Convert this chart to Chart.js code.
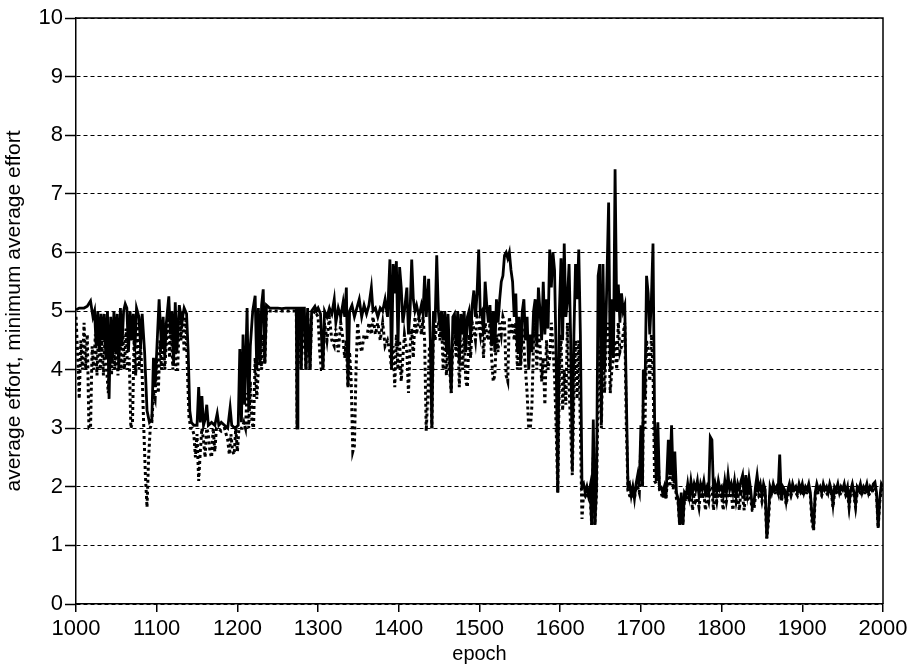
<!DOCTYPE html>
<html>
<head>
<meta charset="utf-8">
<script src="https://cdn.jsdelivr.net/npm/chart.js@4.4.1/dist/chart.umd.min.js"></script>
<style>
  html, body { margin: 0; padding: 0; background: #fff; }
</style>
</head>
<body>
<canvas id="effortChart" width="914" height="666"></canvas>
<script>
// average effort per epoch (solid line), [epoch, value]
const avgEffort = [
  [1000,5.02],[1004,5.05],[1010,5.05],[1014,5.08],[1018,5.17],[1021,4.9],[1023,5.0],[1025,4.4],[1027,5.0],[1029,4.3],
  [1031,4.95],[1033,4.5],[1035,4.95],[1037,4.2],[1039,5.0],[1041,3.5],[1043,4.9],[1045,4.1],[1047,5.0],[1049,4.3],
  [1051,4.95],[1053,4.0],[1055,5.05],[1057,4.4],[1059,5.0],[1061,5.12],[1063,5.05],[1065,4.3],[1067,5.0],[1069,4.5],
  [1071,4.95],[1073,4.35],[1075,5.05],[1078,4.9],[1080,4.4],[1082,4.95],[1085,4.3],[1088,3.3],[1091,3.1],[1094,3.15],
  [1096,4.2],[1098,3.7],[1101,4.6],[1103,5.2],[1106,4.35],[1108,4.9],[1110,4.2],[1112,4.8],[1115,5.25],[1117,4.6],
  [1119,5.0],[1121,4.1],[1123,5.15],[1125,4.3],[1128,5.1],[1131,4.8],[1134,5.05],[1137,4.95],[1139,4.3],[1141,3.3],
  [1143,3.1],[1146,3.05],[1150,3.05],[1152,3.7],[1154,3.1],[1156,3.55],[1158,3.05],[1160,3.15],[1162,3.4],[1164,3.05],
  [1168,3.1],[1172,3.05],[1175,3.25],[1177,3.05],[1180,3.1],[1184,3.05],[1188,3.0],[1191,3.35],[1193,3.05],[1197,3.0],
  [1201,3.05],[1203,4.35],[1205,3.1],[1207,4.6],[1209,3.4],[1212,5.05],[1214,3.3],[1216,4.4],[1219,5.0],[1222,5.26],
  [1224,4.0],[1226,5.05],[1228,4.1],[1230,5.1],[1232,5.37],[1234,4.1],[1236,5.1],[1240,5.05],[1245,5.05],[1250,5.05],
  [1255,5.04],[1260,5.05],[1265,5.05],[1270,5.05],[1273,5.05],[1274,3.0],[1275,5.05],[1278,5.05],[1279,4.0],[1281,5.05],
  [1283,5.05],[1285,4.0],[1287,5.05],[1290,4.0],[1292,5.0],[1296,5.08],[1298,5.0],[1300,5.05],[1303,4.95],[1306,4.0],
  [1308,5.0],[1311,4.9],[1314,5.05],[1317,4.95],[1320,5.2],[1322,4.8],[1325,5.05],[1328,4.9],[1331,5.15],[1333,4.9],
  [1335,5.4],[1337,3.7],[1339,5.0],[1342,5.1],[1345,4.9],[1348,5.05],[1351,5.2],[1354,4.9],[1357,5.1],[1360,4.95],
  [1363,5.1],[1366,5.4],[1368,5.0],[1371,5.05],[1374,4.9],[1377,5.05],[1380,5.0],[1383,5.2],[1386,4.9],[1389,5.88],
  [1391,4.0],[1393,5.8],[1395,5.3],[1397,5.85],[1399,4.4],[1401,5.75],[1403,5.4],[1405,4.8],[1407,5.0],[1410,5.4],
  [1412,4.6],[1414,5.0],[1416,5.88],[1418,5.2],[1420,5.0],[1422,5.1],[1425,4.9],[1428,5.1],[1430,4.95],[1432,5.6],
  [1434,4.9],[1437,5.55],[1439,4.5],[1441,3.0],[1443,5.0],[1445,4.8],[1447,5.95],[1449,5.0],[1451,4.7],[1453,5.0],
  [1455,4.5],[1457,5.0],[1459,4.3],[1461,4.95],[1463,4.2],[1465,3.6],[1467,4.9],[1469,4.95],[1471,4.4],[1473,5.0],
  [1475,4.1],[1477,4.95],[1479,4.6],[1481,5.0],[1483,4.3],[1485,4.9],[1487,5.0],[1489,4.5],[1491,5.1],[1493,5.35],
  [1495,4.9],[1497,5.3],[1499,6.05],[1501,4.95],[1503,5.0],[1505,4.6],[1507,5.5],[1509,5.1],[1511,4.8],[1513,5.1],
  [1515,4.4],[1517,5.0],[1519,4.3],[1521,5.2],[1523,4.8],[1525,5.2],[1527,5.5],[1529,5.6],[1531,5.95],[1533,6.0],
  [1535,5.9],[1537,6.0],[1539,5.7],[1541,5.5],[1543,4.9],[1545,5.3],[1547,4.3],[1549,4.9],[1551,4.1],[1553,5.0],
  [1555,5.2],[1557,4.5],[1559,4.9],[1561,4.0],[1563,4.6],[1565,4.3],[1567,5.0],[1569,5.2],[1571,4.4],[1573,5.4],
  [1575,5.0],[1577,4.5],[1579,5.5],[1581,4.6],[1583,5.2],[1585,4.7],[1587,6.05],[1589,5.4],[1591,6.0],[1593,5.7],
  [1595,4.2],[1597,1.9],[1599,5.0],[1601,5.9],[1603,4.5],[1605,6.15],[1607,4.9],[1609,5.2],[1611,5.8],[1613,4.5],
  [1615,2.3],[1617,4.6],[1619,5.8],[1621,5.2],[1623,6.05],[1625,4.6],[1627,2.0],[1629,2.05],[1631,1.9],[1633,2.0],
  [1635,1.85],[1637,2.0],[1639,1.35],[1641,3.15],[1643,1.35],[1645,2.0],[1647,5.6],[1649,5.8],[1651,3.1],[1653,5.8],
  [1655,4.0],[1657,5.0],[1660,6.85],[1662,4.0],[1664,5.2],[1666,4.2],[1668,7.42],[1670,5.0],[1672,5.45],[1674,4.8],
  [1676,5.3],[1678,5.0],[1680,5.1],[1682,3.5],[1684,2.0],[1686,2.05],[1688,1.85],[1690,2.0],[1692,1.8],[1694,2.05],
  [1696,2.2],[1698,2.0],[1700,3.05],[1702,2.0],[1703,4.0],[1705,3.5],[1707,5.6],[1709,5.3],[1711,4.6],[1713,5.2],
  [1715,6.15],[1717,3.1],[1719,2.1],[1721,3.1],[1723,2.0],[1725,2.0],[1727,1.9],[1729,2.0],[1731,1.8],[1734,2.8],
  [1736,2.2],[1738,3.05],[1740,2.1],[1742,2.6],[1744,1.9],[1746,1.8],[1748,1.35],[1750,1.9],[1752,1.35],[1754,1.9],
  [1756,1.85],[1758,2.05],[1760,1.85],[1762,2.1],[1764,1.9],[1766,2.05],[1768,1.95],[1770,2.1],[1772,1.85],[1774,2.05],
  [1776,1.95],[1778,2.1],[1780,1.9],[1782,2.0],[1784,1.9],[1786,2.85],[1788,2.8],[1790,1.9],[1792,2.05],[1794,1.9],
  [1796,2.1],[1798,1.95],[1800,2.0],[1802,1.85],[1804,2.1],[1806,1.9],[1808,2.2],[1810,1.95],[1812,2.05],[1814,1.9],
  [1816,2.1],[1818,1.85],[1820,2.05],[1822,1.95],[1824,2.1],[1826,2.2],[1828,1.8],[1830,2.2],[1832,1.9],[1834,2.15],
  [1836,1.95],[1838,1.65],[1840,1.7],[1842,2.0],[1844,2.2],[1846,1.95],[1848,2.05],[1850,1.85],[1852,2.05],[1854,1.95],
  [1856,1.12],[1858,1.5],[1860,2.0],[1862,1.9],[1864,2.05],[1866,1.95],[1868,2.0],[1870,1.9],[1872,2.55],[1874,1.8],
  [1876,2.0],[1878,1.95],[1880,1.75],[1882,1.95],[1884,2.05],[1886,1.9],[1888,2.05],[1890,1.95],[1892,2.0],[1894,1.9],
  [1896,2.05],[1898,1.95],[1900,2.05],[1902,1.9],[1904,2.0],[1906,1.95],[1908,2.05],[1910,1.9],[1912,1.5],[1914,1.3],
  [1916,1.9],[1918,2.05],[1920,1.95],[1922,2.0],[1924,1.9],[1926,2.05],[1928,1.95],[1930,2.0],[1932,1.9],[1934,2.05],
  [1936,1.95],[1938,1.7],[1940,2.0],[1942,1.95],[1944,2.05],[1946,1.9],[1948,2.0],[1950,1.95],[1952,2.05],[1954,1.9],
  [1956,2.0],[1958,1.7],[1960,1.95],[1962,2.05],[1964,1.9],[1966,1.7],[1968,2.0],[1970,1.95],[1972,2.05],[1974,1.9],
  [1976,2.0],[1978,1.95],[1980,2.05],[1982,1.9],[1984,2.0],[1986,1.95],[1988,2.05],[1990,2.08],[1992,1.9],[1994,1.3],
  [1996,1.8],[1998,2.05],[2000,2.0]
];

// minimum average effort (dotted line), [epoch, value]
const minAvgEffort = [
  [1000,4.9],[1002,4.3],[1004,3.5],[1006,4.5],[1008,4.0],[1010,4.8],[1012,4.0],[1014,4.6],[1016,3.0],[1018,3.0],
  [1020,4.4],[1022,4.0],[1024,4.6],[1026,3.9],[1028,4.7],[1030,4.0],[1032,4.5],[1034,3.9],[1036,4.6],[1038,4.0],
  [1040,3.6],[1042,4.4],[1044,3.9],[1046,4.7],[1048,4.0],[1050,4.5],[1052,3.9],[1054,4.8],[1056,4.0],[1058,4.6],
  [1060,4.0],[1062,4.7],[1064,4.0],[1066,4.2],[1068,3.0],[1070,3.1],[1072,4.5],[1074,3.9],[1076,4.8],[1078,4.0],
  [1080,4.4],[1082,3.9],[1084,3.0],[1086,2.2],[1088,1.65],[1090,2.5],[1092,3.0],[1094,3.1],[1096,3.6],[1098,3.5],
  [1100,4.2],[1102,3.6],[1104,4.5],[1106,4.0],[1108,4.8],[1110,4.0],[1112,4.5],[1114,4.9],[1116,4.2],[1118,4.8],
  [1120,4.0],[1122,4.7],[1124,4.0],[1126,4.0],[1128,4.9],[1130,4.5],[1132,5.0],[1134,4.3],[1136,4.9],[1138,4.0],
  [1140,3.2],[1142,3.0],[1144,3.0],[1146,2.9],[1148,2.5],[1150,2.9],[1152,2.1],[1154,2.6],[1156,3.0],[1158,2.8],
  [1160,2.5],[1162,3.0],[1164,2.9],[1166,2.6],[1168,2.5],[1170,3.0],[1172,2.6],[1174,3.0],[1176,3.0],[1180,2.95],
  [1184,3.0],[1188,2.8],[1190,2.55],[1192,2.9],[1194,2.6],[1196,2.55],[1198,3.0],[1200,2.6],[1202,3.0],[1204,3.0],
  [1206,3.0],[1208,3.1],[1210,3.0],[1212,3.6],[1214,3.0],[1216,3.8],[1218,3.1],[1220,3.0],[1222,4.2],[1224,3.5],
  [1226,4.0],[1228,4.4],[1230,4.0],[1232,4.6],[1234,4.1],[1236,5.0],[1240,5.0],[1250,5.0],[1260,5.0],[1270,5.0],
  [1273,5.0],[1274,3.0],[1275,5.0],[1279,4.0],[1281,5.0],[1285,4.0],[1287,5.0],[1290,4.0],[1292,4.9],[1296,5.0],
  [1300,4.9],[1302,4.3],[1304,4.0],[1306,4.0],[1308,4.8],[1311,4.5],[1314,4.9],[1317,4.5],[1320,4.4],[1322,4.7],
  [1325,4.3],[1328,4.8],[1331,4.5],[1333,4.2],[1335,4.5],[1337,3.7],[1339,4.3],[1341,3.8],[1343,2.6],[1345,2.7],
  [1347,4.0],[1349,4.8],[1351,4.5],[1354,4.3],[1357,4.6],[1360,4.5],[1363,4.8],[1366,4.6],[1368,4.9],[1371,4.6],
  [1374,4.8],[1377,4.5],[1380,4.8],[1383,4.4],[1386,4.5],[1389,4.3],[1391,4.0],[1393,4.4],[1395,3.7],[1397,4.6],
  [1399,4.0],[1401,4.5],[1403,3.8],[1405,4.2],[1407,4.6],[1410,4.3],[1412,3.6],[1414,4.4],[1416,4.7],[1418,4.2],
  [1420,4.9],[1422,4.6],[1425,4.9],[1428,4.6],[1430,4.9],[1432,4.5],[1434,2.95],[1436,3.6],[1438,4.4],[1441,3.0],
  [1443,4.8],[1445,4.5],[1447,4.8],[1449,4.8],[1451,4.5],[1453,4.8],[1455,4.0],[1457,4.6],[1459,3.9],[1461,4.5],
  [1463,4.0],[1465,3.6],[1467,4.5],[1469,4.8],[1471,4.2],[1473,4.8],[1475,3.7],[1477,4.5],[1479,4.0],[1481,4.7],
  [1483,3.8],[1485,3.7],[1487,4.6],[1489,4.2],[1491,4.8],[1493,4.7],[1495,4.5],[1497,4.9],[1499,4.8],[1501,4.6],
  [1503,4.9],[1505,4.2],[1507,4.8],[1509,4.6],[1511,4.5],[1513,4.8],[1515,4.2],[1517,3.8],[1519,3.9],[1521,4.6],
  [1523,4.3],[1525,4.8],[1527,4.6],[1529,4.9],[1531,4.8],[1533,3.9],[1535,3.8],[1537,4.9],[1539,4.6],[1541,4.8],
  [1543,4.5],[1545,4.8],[1547,4.0],[1549,4.6],[1551,4.0],[1553,4.7],[1555,4.4],[1557,4.0],[1559,3.6],[1561,3.0],
  [1563,3.0],[1565,3.4],[1567,4.5],[1569,4.8],[1571,4.0],[1573,4.6],[1575,4.4],[1577,3.8],[1579,4.2],[1581,3.4],
  [1583,4.5],[1585,4.0],[1587,4.2],[1589,4.8],[1591,4.4],[1593,3.9],[1595,3.0],[1597,1.9],[1599,4.0],[1601,4.6],
  [1603,3.3],[1605,4.0],[1607,3.4],[1609,4.8],[1611,3.7],[1613,3.0],[1615,2.2],[1617,3.6],[1619,4.5],[1621,3.5],
  [1623,4.5],[1625,3.0],[1627,1.45],[1629,1.9],[1631,1.85],[1633,1.95],[1635,1.8],[1637,1.9],[1639,1.35],[1641,2.5],
  [1643,1.35],[1645,1.9],[1647,3.6],[1649,4.4],[1651,3.0],[1653,4.4],[1655,3.6],[1657,4.5],[1660,4.8],[1662,3.6],
  [1664,4.0],[1666,4.2],[1668,4.5],[1670,4.0],[1672,4.8],[1674,4.3],[1676,4.4],[1678,4.6],[1680,4.8],[1682,3.0],
  [1684,1.95],[1686,1.85],[1688,1.8],[1690,1.95],[1692,1.8],[1694,2.0],[1696,2.0],[1698,1.9],[1700,2.8],[1702,2.0],
  [1703,3.4],[1705,3.0],[1707,4.5],[1709,4.3],[1711,3.8],[1713,4.6],[1715,4.0],[1717,2.1],[1719,2.05],[1721,2.6],
  [1723,1.95],[1725,1.9],[1727,1.8],[1729,1.9],[1731,1.8],[1734,2.3],[1736,2.0],[1738,2.6],[1740,1.95],[1742,2.2],
  [1744,1.8],[1746,1.75],[1748,1.35],[1750,1.8],[1752,1.35],[1754,1.8],[1756,1.75],[1758,1.9],[1760,1.75],[1762,1.95],
  [1764,1.6],[1766,1.9],[1768,1.75],[1770,1.8],[1772,1.65],[1774,1.9],[1776,1.8],[1778,1.9],[1780,1.6],[1782,1.85],
  [1784,1.75],[1786,2.0],[1788,2.0],[1790,1.6],[1792,1.9],[1794,1.75],[1796,1.95],[1798,1.8],[1800,1.85],[1802,1.6],
  [1804,1.95],[1806,1.75],[1808,1.9],[1810,1.8],[1812,1.9],[1814,1.6],[1816,1.95],[1818,1.75],[1820,1.9],[1822,1.6],
  [1824,1.95],[1826,1.85],[1828,1.6],[1830,1.95],[1832,1.75],[1834,1.9],[1836,1.8],[1838,1.6],[1840,1.6],[1842,1.85],
  [1844,1.95],[1846,1.85],[1848,1.9],[1850,1.75],[1852,1.9],[1854,1.85],[1856,1.12],[1858,1.4],[1860,1.9],[1862,1.85],
  [1864,1.95],[1866,1.9],[1868,1.9],[1870,1.85],[1872,2.0],[1874,1.75],[1876,1.9],[1878,1.9],[1880,1.7],[1882,1.85],
  [1884,1.95],[1886,1.85],[1888,1.95],[1890,1.9],[1892,1.9],[1894,1.85],[1896,1.95],[1898,1.9],[1900,1.95],[1902,1.85],
  [1904,1.9],[1906,1.9],[1908,1.95],[1910,1.85],[1912,1.4],[1914,1.25],[1916,1.8],[1918,1.95],[1920,1.9],[1922,1.9],
  [1924,1.85],[1926,1.95],[1928,1.9],[1930,1.9],[1932,1.85],[1934,1.95],[1936,1.9],[1938,1.65],[1940,1.9],[1942,1.9],
  [1944,1.95],[1946,1.85],[1948,1.9],[1950,1.9],[1952,1.95],[1954,1.85],[1956,1.9],[1958,1.65],[1960,1.9],[1962,1.95],
  [1964,1.85],[1966,1.65],[1968,1.9],[1970,1.9],[1972,1.95],[1974,1.85],[1976,1.9],[1978,1.9],[1980,1.95],[1982,1.85],
  [1984,1.9],[1986,1.9],[1988,1.95],[1990,2.0],[1992,1.85],[1994,1.3],[1996,1.75],[1998,1.95],[2000,1.95]
];

const xRange = [1000, 2000]
const yRange = [0, 10]
const xTitle = 'epoch'
const yTitle = 'average effort, minimum average effort'

const FONT = "'Liberation Sans', Arial, sans-serif"

// top + right sides of the plot box
const frameBox = {
  id: 'frameBox',
  afterDraw(chart) {
    const {ctx, chartArea} = chart
    ctx.save()
    ctx.strokeStyle = '#000'
    ctx.lineWidth = 1.5
    ctx.beginPath()
    ctx.moveTo(chartArea.left, chartArea.top)
    ctx.lineTo(chartArea.right, chartArea.top)
    ctx.lineTo(chartArea.right, chartArea.bottom)
    ctx.stroke()
    ctx.restore()
  }
}

const toPoints = rows => rows.map(r => ({x: r[0], y: r[1]}))

new Chart(document.getElementById('effortChart'), {
  type: 'line',
  data: {
    datasets: [{
        label: 'minimum average effort',
        data: toPoints(minAvgEffort),
        borderColor: '#000',
        borderWidth: 3,
        borderDash: [3, 3],
        pointRadius: 0,
        tension: 0
    }, {
        label: 'average effort',
        data: toPoints(avgEffort),
        borderColor: '#000',
        borderWidth: 2.8,
        pointRadius: 0,
        tension: 0
    }]
  },
  options: {
    responsive: false,
    animation: false,
    devicePixelRatio: 1,
    layout: { padding: { left: 0, right: 31, top: 18, bottom: 0 } },
    plugins: { legend: { display: false }, tooltip: { enabled: false } },
    scales: {
      x: {
        type: 'linear',
        min: xRange[0],
        max: xRange[1],
        afterFit: s => { s.height = 62 },
        ticks: {
          stepSize: 100,
          autoSkip: false,
          maxRotation: 0,
          padding: 4,
          color: '#000',
          font: { family: FONT, size: 22 },
          callback: v => String(v)
        },
        grid: { drawOnChartArea: false, tickLength: 8, color: '#000', lineWidth: 1.5 },
        border: { display: true, color: '#000', width: 1.5 },
        title: { display: true, text: xTitle, color: '#000', font: { family: FONT, size: 20 }, padding: 0 }
      },
      y: {
        min: yRange[0],
        max: yRange[1],
        afterFit: s => { s.width = 76 },
        ticks: {
          stepSize: 1,
          padding: 2,
          color: '#000',
          font: { family: FONT, size: 22 }
        },
        grid: { color: '#000', lineWidth: 1, tickLength: 11, tickColor: '#000', tickWidth: 1.5 },
        border: { display: true, color: '#000', width: 1.5, dash: [4, 3] },
        title: { display: true, text: yTitle, color: '#000', font: { family: FONT, size: 21 }, padding: { top: 2, bottom: 0 } }
      }
    }
  },
  plugins: [frameBox]
})
</script>
</body>
</html>
